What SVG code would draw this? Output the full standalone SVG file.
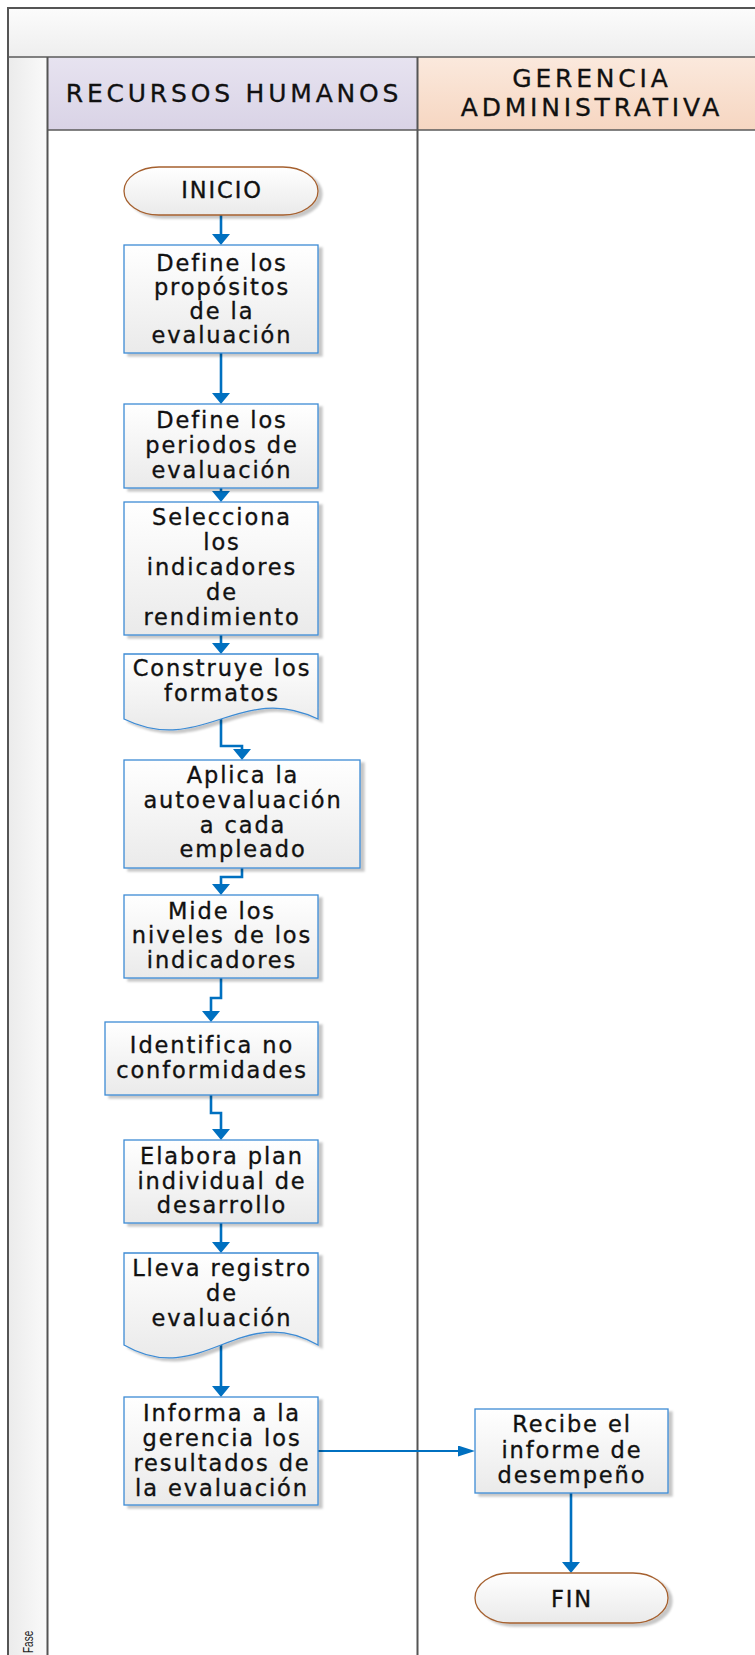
<svg xmlns="http://www.w3.org/2000/svg" width="755" height="1655" viewBox="0 0 755 1655">
  <defs>
    <linearGradient id="gTitle" x1="0" y1="0" x2="0" y2="1">
      <stop offset="0" stop-color="#fcfcfc"/>
      <stop offset="1" stop-color="#eeeeee"/>
    </linearGradient>
    <linearGradient id="gPhase" x1="0" y1="0" x2="1" y2="0">
      <stop offset="0" stop-color="#ebebeb"/>
      <stop offset="1" stop-color="#fafafa"/>
    </linearGradient>
    <linearGradient id="gLaneRH" x1="0" y1="0" x2="0" y2="1">
      <stop offset="0" stop-color="#e7e3f0"/>
      <stop offset="1" stop-color="#d9d3e6"/>
    </linearGradient>
    <linearGradient id="gLaneGA" x1="0" y1="0" x2="0" y2="1">
      <stop offset="0" stop-color="#fbe9dd"/>
      <stop offset="1" stop-color="#f6d6c1"/>
    </linearGradient>
    <linearGradient id="gShape" x1="0" y1="0" x2="0" y2="1">
      <stop offset="0" stop-color="#ffffff"/>
      <stop offset="1" stop-color="#eaeaea"/>
    </linearGradient>
    <filter id="shadow" x="-10%" y="-10%" width="130%" height="130%">
      <feGaussianBlur in="SourceAlpha" stdDeviation="1.2"/>
      <feOffset dx="4" dy="3" result="b"/>
      <feFlood flood-color="#000" flood-opacity="0.22"/>
      <feComposite in2="b" operator="in"/>
      <feMerge>
        <feMergeNode/>
        <feMergeNode in="SourceGraphic"/>
      </feMerge>
    </filter>
    <marker id="arrowDown" markerUnits="userSpaceOnUse" markerWidth="18" markerHeight="11" viewBox="0 0 18 11" refX="9" refY="6" orient="0">
      <path d="M0,0 L18,0 L9,11 Z" fill="#0070c0"/>
    </marker>
    <marker id="arrowRight" markerUnits="userSpaceOnUse" markerWidth="17" markerHeight="11" viewBox="0 0 17 11" refX="12" refY="5.5" orient="0">
      <path d="M0,0 L17,5.5 L0,11 Z" fill="#0070c0"/>
    </marker>
  </defs>
  <style>
    .frame { stroke: #555555; stroke-width: 2; fill: none; }
    .rule { stroke: #5a5a5a; stroke-width: 1.6; fill: none; }
    .proc { fill: url(#gShape); stroke: #3d8bd4; stroke-width: 1.3; filter: url(#shadow); }
    .term { fill: url(#gShape); stroke: #a5602f; stroke-width: 1.3; filter: url(#shadow); }
    .lbl { font-family: "DejaVu Sans", Verdana, sans-serif; font-size: 22.5px; letter-spacing: 1.9px; fill: #111111; stroke: #111111; stroke-width: 0.35px; text-anchor: middle; }
    .hdr { font-family: "DejaVu Sans", Verdana, sans-serif; font-size: 25px; letter-spacing: 3.8px; fill: #111111; stroke: #111111; stroke-width: 0.3px; text-anchor: middle; }
    .phase { font-family: "Liberation Sans", Arial, sans-serif; font-size: 10px; fill: #222; }
    .conn { fill: none; stroke: #0070c0; stroke-width: 2.6; }
    .connH { fill: none; stroke: #0070c0; stroke-width: 1.8; }
  </style>

  <!-- pool frame, title bar, phase column and lane headers -->
  <g id="pool">
    <rect x="8" y="8" width="770" height="49" fill="url(#gTitle)"/>
    <rect x="8" y="57" width="39" height="1610" fill="url(#gPhase)"/>
    <rect x="47" y="57" width="370" height="73" fill="url(#gLaneRH)"/>
    <rect x="417" y="57" width="360" height="73" fill="url(#gLaneGA)"/>
    <rect x="47" y="130" width="730" height="1540" fill="#ffffff"/>
    <rect class="frame" x="8" y="8" width="770" height="1670"/>
    <line class="rule" x1="8" y1="57" x2="778" y2="57"/>
    <line class="rule" x1="47" y1="130" x2="778" y2="130"/>
    <line class="frame" x1="47.5" y1="57" x2="47.5" y2="1670"/>
    <line class="frame" x1="417.5" y1="57" x2="417.5" y2="1670"/>
    <text class="hdr" x="234" y="102">RECURSOS HUMANOS</text>
    <text class="hdr" x="592" y="87">GERENCIA</text>
    <text class="hdr" x="592" y="116">ADMINISTRATIVA</text>
    <text class="phase" transform="translate(33,1653) rotate(-90) scale(1,1.45)">Fase</text>
  </g>

  <!-- connectors -->
  <g id="connectors">
    <path class="conn" d="M221,215 V240" marker-end="url(#arrowDown)"/>
    <path class="conn" d="M221,353 V399" marker-end="url(#arrowDown)"/>
    <path class="conn" d="M221,488 V497" marker-end="url(#arrowDown)"/>
    <path class="conn" d="M221,635 V649" marker-end="url(#arrowDown)"/>
    <path class="conn" d="M221,719 V746 H242 V755" marker-end="url(#arrowDown)"/>
    <path class="conn" d="M242,868 V877 H221 V890" marker-end="url(#arrowDown)"/>
    <path class="conn" d="M221,978 V998 H211 V1017" marker-end="url(#arrowDown)"/>
    <path class="conn" d="M211,1095 V1113 H221 V1135" marker-end="url(#arrowDown)"/>
    <path class="conn" d="M221,1223 V1248" marker-end="url(#arrowDown)"/>
    <path class="conn" d="M221,1345 V1392" marker-end="url(#arrowDown)"/>
    <path class="connH" d="M318,1451 H470" marker-end="url(#arrowRight)"/>
    <path class="conn" d="M571,1493 V1568" marker-end="url(#arrowDown)"/>
  </g>

  <g id="inicio">
    <rect class="term" x="124" y="167" width="194" height="48" rx="35" ry="24"/>
    <text class="lbl" x="222" y="198">INICIO</text>
  </g>

  <g id="define-propositos">
    <rect class="proc" x="124" y="245" width="194" height="108"/>
    <text class="lbl" x="222" y="271">Define los</text>
    <text class="lbl" x="222" y="295">propósitos</text>
    <text class="lbl" x="222" y="319">de la</text>
    <text class="lbl" x="222" y="343">evaluación</text>
  </g>

  <g id="define-periodos">
    <rect class="proc" x="124" y="404" width="194" height="84"/>
    <text class="lbl" x="222" y="427.5">Define los</text>
    <text class="lbl" x="222" y="452.5">periodos de</text>
    <text class="lbl" x="222" y="477.5">evaluación</text>
  </g>

  <g id="selecciona-indicadores">
    <rect class="proc" x="124" y="502" width="194" height="133"/>
    <text class="lbl" x="222" y="525">Selecciona</text>
    <text class="lbl" x="222" y="550">los</text>
    <text class="lbl" x="222" y="575">indicadores</text>
    <text class="lbl" x="222" y="600">de</text>
    <text class="lbl" x="222" y="625">rendimiento</text>
  </g>

  <g id="construye-formatos">
    <path class="proc" d="M124,654 H318 V719 C240,681 202,757 124,719 Z"/>
    <text class="lbl" x="222" y="676">Construye los</text>
    <text class="lbl" x="222" y="701">formatos</text>
  </g>

  <g id="aplica-autoevaluacion">
    <rect class="proc" x="124" y="760" width="236" height="108"/>
    <text class="lbl" x="243" y="782.5">Aplica la</text>
    <text class="lbl" x="243" y="807.5">autoevaluación</text>
    <text class="lbl" x="243" y="832.5">a cada</text>
    <text class="lbl" x="243" y="857">empleado</text>
  </g>

  <g id="mide-niveles">
    <rect class="proc" x="124" y="895" width="194" height="83"/>
    <text class="lbl" x="222" y="918.5">Mide los</text>
    <text class="lbl" x="222" y="942.5">niveles de los</text>
    <text class="lbl" x="222" y="967.5">indicadores</text>
  </g>

  <g id="identifica-no-conformidades">
    <rect class="proc" x="105" y="1022" width="213" height="73"/>
    <text class="lbl" x="212" y="1052.5">Identifica no</text>
    <text class="lbl" x="212" y="1077.5">conformidades</text>
  </g>

  <g id="elabora-plan">
    <rect class="proc" x="124" y="1140" width="194" height="83"/>
    <text class="lbl" x="222" y="1163.5">Elabora plan</text>
    <text class="lbl" x="222" y="1188.5">individual de</text>
    <text class="lbl" x="222" y="1213">desarrollo</text>
  </g>

  <g id="lleva-registro">
    <path class="proc" d="M124,1253 H318 V1345 C240,1300 202,1390 124,1345 Z"/>
    <text class="lbl" x="222" y="1275.5">Lleva registro</text>
    <text class="lbl" x="222" y="1300.5">de</text>
    <text class="lbl" x="222" y="1325.5">evaluación</text>
  </g>

  <g id="informa-gerencia">
    <rect class="proc" x="124" y="1397" width="194" height="108"/>
    <text class="lbl" x="222" y="1420.5">Informa a la</text>
    <text class="lbl" x="222" y="1445.5">gerencia los</text>
    <text class="lbl" x="222" y="1470.5">resultados de</text>
    <text class="lbl" x="222" y="1495.5">la evaluación</text>
  </g>

  <g id="recibe-informe">
    <rect class="proc" x="475" y="1409" width="193" height="84"/>
    <text class="lbl" x="572" y="1431.5">Recibe el</text>
    <text class="lbl" x="572" y="1458">informe de</text>
    <text class="lbl" x="572" y="1482.5">desempeño</text>
  </g>

  <g id="fin">
    <rect class="term" x="475" y="1573" width="193" height="50" rx="35" ry="25"/>
    <text class="lbl" x="572" y="1606.5">FIN</text>
  </g>
</svg>
